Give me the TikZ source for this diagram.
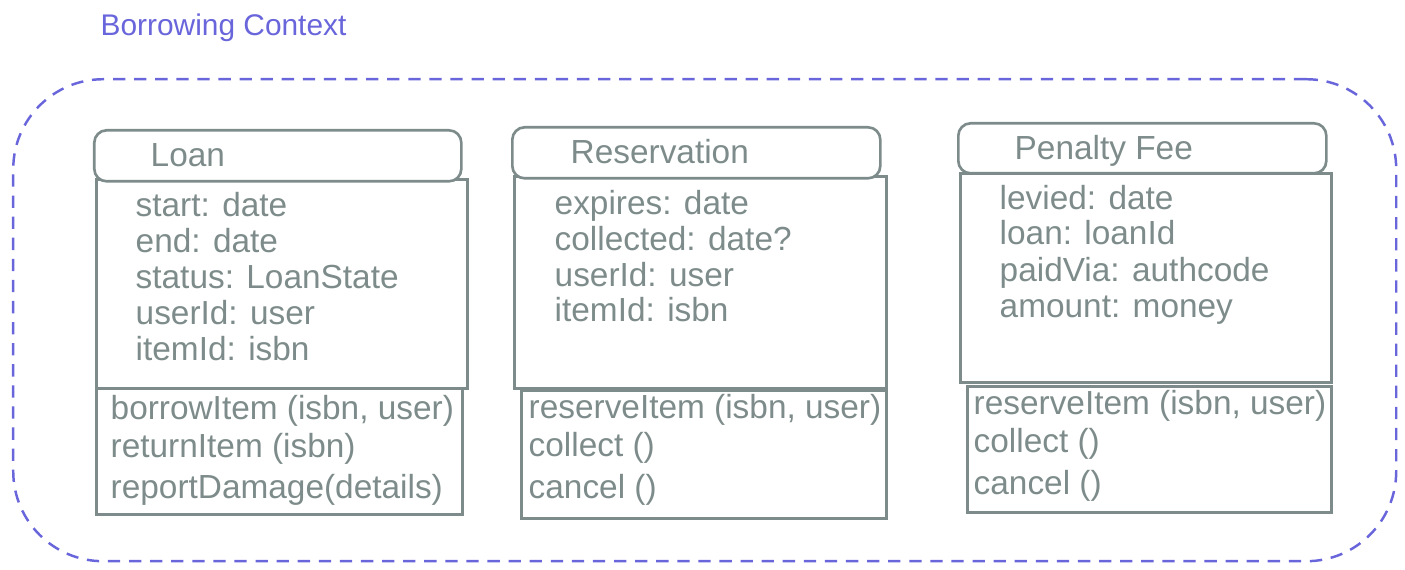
\documentclass[tikz,border=0pt]{standalone}
\usepackage{fontspec}
\setmainfont{Liberation Sans}
\usepackage{xcolor}
\definecolor{slate}{RGB}{125,140,138}
\definecolor{ctxblue}{RGB}{105,101,219}

\begin{document}
\begin{tikzpicture}[
    box/.style={draw=slate,line width=0.75pt,anchor=north west,inner sep=0pt},
    head/.style={box,rounded corners=3.5pt},
    txt/.style={anchor=west,inner sep=0pt,text=slate,font=\fontsize{9.5}{11}\selectfont,text height=1.6ex,text depth=0.4ex}
]
                \useasboundingbox (0,0) rectangle (14.05,-5.70);

                % bounded context
                \node (ctx) at (0.12,-0.78) [draw=ctxblue,line width=0.7pt,dash pattern=on 3.5pt off 2.5pt,rounded corners=0.9cm,anchor=north west,minimum width=13.83cm,minimum height=4.82cm] {};
                \node (ctxlabel) at (1.00,-0.28) [anchor=west,inner sep=0pt,text=ctxblue,font=\fontsize{8.5}{10}\selectfont] {Borrowing Context};

                % Loan
                \node (loanattr) at (0.95,-1.78) [box,minimum width=3.71cm,minimum height=2.09cm] {};
                \node (loanops) at (0.95,-3.87) [box,minimum width=3.66cm,minimum height=1.26cm] {};
                \node (loan) at (0.93,-1.29) [head,fill=white,minimum width=3.67cm,minimum height=0.51cm] {};
                \node (loanname) at (1.50,-1.55) [txt] {Loan};
                \node (la1) at (1.35,-2.05) [txt] {start: date};
                \node (la2) at (1.35,-2.41) [txt] {end: date};
                \node (la3) at (1.35,-2.77) [txt] {status: LoanState};
                \node (la4) at (1.35,-3.13) [txt] {userId: user};
                \node (la5) at (1.35,-3.49) [txt] {itemId: isbn};
                \node (lo1) at (1.10,-4.08) [txt] {borrowItem (isbn, user)};
                \node (lo2) at (1.10,-4.46) [txt] {returnItem (isbn)};
                \node (lo3) at (1.10,-4.87) [txt] {reportDamage(details)};

                % Reservation
                \node (resattr) at (5.13,-1.75) [box,minimum width=3.72cm,minimum height=2.12cm] {};
                \node (resops) at (5.20,-3.89) [box,minimum width=3.65cm,minimum height=1.28cm] {};
                \node (res) at (5.11,-1.26) [head,fill=white,minimum width=3.68cm,minimum height=0.51cm] {};
                \node (resname) at (5.70,-1.52) [txt] {Reservation};
                \node (ra1) at (5.54,-2.03) [txt] {expires: date};
                \node (ra2) at (5.54,-2.39) [txt] {collected: date?};
                \node (ra3) at (5.54,-2.75) [txt] {userId: user};
                \node (ra4) at (5.54,-3.10) [txt] {itemId: isbn};
                \node (ro1) at (5.28,-4.07) [txt] {reserveItem (isbn, user)};
                \node (ro2) at (5.28,-4.45) [txt] {collect ()};
                \node (ro3) at (5.28,-4.87) [txt] {cancel ()};

                % Penalty Fee
                \node (penattr) at (9.59,-1.72) [box,minimum width=3.71cm,minimum height=2.09cm] {};
                \node (penops) at (9.66,-3.85) [box,minimum width=3.64cm,minimum height=1.26cm] {};
                \node (pen) at (9.57,-1.22) [head,fill=white,minimum width=3.68cm,minimum height=0.50cm] {};
                \node (penname) at (10.14,-1.48) [txt] {Penalty Fee};
                \node (pa1) at (9.99,-1.98) [txt] {levied: date};
                \node (pa2) at (9.99,-2.33) [txt] {loan: loanId};
                \node (pa3) at (9.99,-2.70) [txt] {paidVia: authcode};
                \node (pa4) at (9.99,-3.06) [txt] {amount: money};
                \node (po1) at (9.73,-4.03) [txt] {reserveItem (isbn, user)};
                \node (po2) at (9.73,-4.41) [txt] {collect ()};
                \node (po3) at (9.73,-4.83) [txt] {cancel ()};

            \end{tikzpicture}
\end{document}
